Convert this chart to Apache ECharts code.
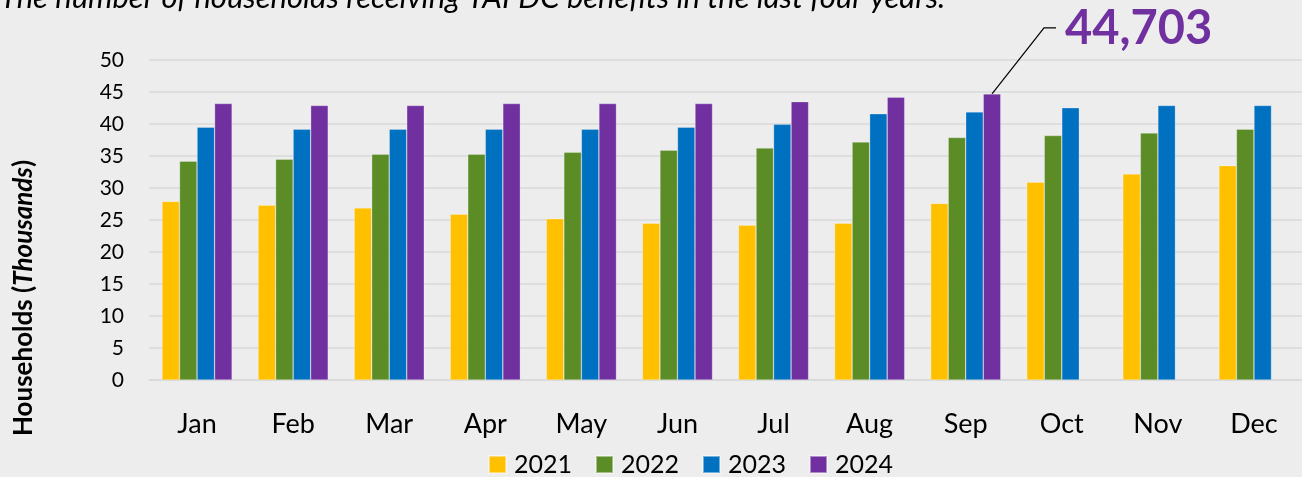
<!DOCTYPE html>
<html>
<head>
<meta charset="utf-8">
<script src="https://cdn.jsdelivr.net/npm/echarts@6/dist/echarts.min.js"></script>
<style>
html, body { margin: 0; padding: 0; background: #ededed; }
#chart { width: 1302px; height: 477px; }
</style>
</head>
<body>
<div id="chart"></div>
<script>
// data (thousands of households)
var months = ['Jan', 'Feb', 'Mar', 'Apr', 'May', 'Jun', 'Jul', 'Aug', 'Sep', 'Oct', 'Nov', 'Dec'];
var years = ['2021', '2022', '2023', '2024'];
var v2021 = [27.9, 27.3, 26.9, 25.9, 25.2, 24.5, 24.2, 24.5, 27.6, 30.9, 32.2, 33.5];
var v2022 = [34.2, 34.5, 35.3, 35.3, 35.6, 35.9, 36.25, 37.2, 37.9, 38.2, 38.6, 39.2];
var v2023 = [39.5, 39.2, 39.2, 39.2, 39.2, 39.5, 39.95, 41.6, 41.9, 42.55, 42.9, 42.9];
var v2024 = [43.2, 42.9, 42.9, 43.2, 43.2, 43.2, 43.5, 44.2, 44.703, null, null, null];
var yMin = 0, yMax = 50, yStep = 5;
var peakMonth = 'Sep';
var peakValue = 44703;

var colors = ['#ffc000', '#5b8c26', '#0070c0', '#7030a0'];
var values = [v2021, v2022, v2023, v2024];
var catGap = 0.27;

var chart = echarts.init(document.getElementById('chart'));

var series = [];
for (var i = 0; i < years.length; i++) {
	series.push({
		name: years[i],
		type: 'bar',
		data: values[i],
		barGap: '0%',
		barCategoryGap: (catGap * 100) + '%',
		itemStyle: {
			color: colors[i],
			borderColor: 'rgba(255,255,255,0.45)',
			borderWidth: 0.6
		}
	});
}

var option = {
	backgroundColor: '#ededed',
	animation: false,
	textStyle: { fontFamily: 'Lato' },
	grid: { left: 149, right: 0, top: 60, bottom: 97 },
	legend: {
		data: years,
		left: 483,
		top: 447,
		icon: 'rect',
		itemWidth: 17,
		itemHeight: 17,
		itemGap: 23,
		textStyle: { color: '#000', fontSize: 25, padding: [0, 0, 0, 3] }
	},
	xAxis: {
		type: 'category',
		data: months,
		axisLine: { lineStyle: { color: '#d9d9d9', width: 1.5 } },
		axisTick: { length: 9, lineStyle: { color: '#d9d9d9', width: 1.5 } },
		axisLabel: { color: '#000', fontSize: 27, margin: 31 }
	},
	yAxis: {
		type: 'value',
		min: yMin,
		max: yMax,
		interval: yStep,
		axisLine: { show: false },
		axisTick: { show: false },
		axisLabel: { color: '#000', fontSize: 21, margin: 25 },
		splitLine: { lineStyle: { color: '#d9d9d9', width: 1.5 } }
	},
	series: series
};
chart.setOption(option);

// annotation for the peak bar, placed from the axis scales
var catW = chart.convertToPixel({ xAxisIndex: 0 }, 'Feb') - chart.convertToPixel({ xAxisIndex: 0 }, 'Jan');
var barW = catW * (1 - catGap) / years.length;
var px = chart.convertToPixel({ xAxisIndex: 0 }, peakMonth) + 1.5 * barW;
var py = chart.convertToPixel({ yAxisIndex: 0 }, peakValue / 1000);

chart.setOption({
	graphic: [
		{
			type: 'text',
			left: 0,
			top: -18,
			style: {
				text: 'The number of households receiving TAFDC benefits in the last four years.',
				fontFamily: 'Lato',
				fontStyle: 'italic',
				fontSize: 31,
				fill: '#000'
			}
		},
		{
			type: 'text',
			x: 24,
			y: 298,
			rotation: Math.PI / 2,
			style: {
				text: '{b|Households (}{i|Thousands}{b|)}',
				align: 'center',
				verticalAlign: 'middle',
				rich: {
					b: { fontFamily: 'Lato', fontWeight: 'bold', fontSize: 26, fill: '#000' },
					i: { fontFamily: 'Lato', fontWeight: 'bold', fontStyle: 'italic', fontSize: 26, fill: '#000' }
				}
			}
		},
		{
			type: 'polyline',
			shape: { points: [[px, py], [px + 52, py - 66], [px + 64, py - 66]] },
			style: { stroke: '#000', lineWidth: 1.2, fill: null }
		},
		{
			type: 'text',
			x: px + 73,
			y: py - 65,
			style: {
				text: peakValue.toLocaleString('en-US'),
				fontFamily: 'Lato',
				fontWeight: 'bold',
				fontSize: 47,
				fill: '#7030a0',
				verticalAlign: 'middle'
			}
		}
	]
});

window.onresize = function () {
	chart.resize();
};
</script>
</body>
</html>
